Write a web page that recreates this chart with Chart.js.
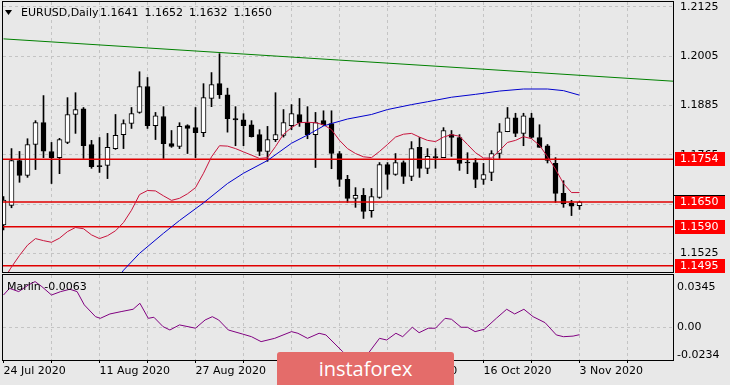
<!DOCTYPE html>
<html>
<head>
<meta charset="utf-8">
<script src="https://cdn.jsdelivr.net/npm/chart.js@4.4.1/dist/chart.umd.min.js"></script>
<style>
  html, body { margin: 0; padding: 0; background: #e8e8e8; }
  #wrap { position: relative; width: 730px; height: 385px; overflow: hidden; }
  #main { position: absolute; left: 0; top: 0; }
  #sub { position: absolute; left: 0; top: 274px; }
  #logo {
    position: absolute; left: 277px; top: 352px; width: 177px; height: 40px;
    background: #e46c6a; border-radius: 3px; color: #fff;
    font: 20px 'Open Sans', sans-serif; text-align: center; line-height: 34px;
  }
</style>
</head>
<body>
<div id="wrap">
  <canvas id="main" width="730" height="274"></canvas>
  <canvas id="sub" width="730" height="111"></canvas>
  <div id="logo">instaforex</div>
</div>
<script>
// EURUSD daily, 24 Jul 2020 .. 3 Nov 2020 (bar index 0..72)
const opens = [1.1594, 1.1642, 1.1751, 1.1715, 1.1790, 1.1843, 1.1773, 1.1758, 1.1795, 1.1863,
  1.1877, 1.1790, 1.1738, 1.1739, 1.1780, 1.1814, 1.1841, 1.1868, 1.1931, 1.1836,
  1.1858, 1.1792, 1.1785, 1.1836, 1.1831, 1.1819, 1.1902, 1.1938, 1.1911, 1.1853,
  1.1850, 1.1838, 1.1814, 1.1773, 1.1802, 1.1812, 1.1836, 1.1863, 1.1843, 1.1814,
  1.1848, 1.1841, 1.1768, 1.1705, 1.1659, 1.1666, 1.1629, 1.1661, 1.1741, 1.1717,
  1.1746, 1.1712, 1.1783, 1.1732, 1.1760, 1.1758, 1.1814, 1.1807, 1.1746, 1.1746,
  1.1705, 1.1722, 1.1768, 1.1821, 1.1855, 1.1817, 1.1855, 1.1807, 1.1787, 1.1744,
  1.1671, 1.1647, 1.1641];
const highs = [1.1663, 1.1780, 1.1773, 1.1804, 1.1848, 1.1909, 1.1795, 1.1805, 1.1904, 1.1916,
  1.1880, 1.1800, 1.1807, 1.1817, 1.1863, 1.1850, 1.1880, 1.1967, 1.1953, 1.1868,
  1.1882, 1.1824, 1.1843, 1.1838, 1.1880, 1.1938, 1.1965, 1.2011, 1.1927, 1.1882,
  1.1865, 1.1848, 1.1826, 1.1834, 1.1916, 1.1875, 1.1887, 1.1902, 1.1882, 1.1868,
  1.1872, 1.1872, 1.1773, 1.1715, 1.1685, 1.1683, 1.1683, 1.1746, 1.1746, 1.1768,
  1.1750, 1.1797, 1.1807, 1.1780, 1.1780, 1.1831, 1.1824, 1.1814, 1.1770, 1.1756,
  1.1744, 1.1775, 1.1841, 1.1880, 1.1866, 1.1866, 1.1866, 1.1838, 1.1790, 1.1758,
  1.1702, 1.1654, 1.1652];
const lows = [1.1582, 1.1636, 1.1698, 1.1710, 1.1729, 1.1758, 1.1695, 1.1719, 1.1792, 1.1817,
  1.1756, 1.1732, 1.1722, 1.1707, 1.1778, 1.1780, 1.1829, 1.1866, 1.1829, 1.1802,
  1.1756, 1.1783, 1.1780, 1.1768, 1.1758, 1.1809, 1.1882, 1.1902, 1.1820, 1.1787,
  1.1787, 1.1808, 1.1763, 1.1749, 1.1797, 1.1808, 1.1826, 1.1834, 1.1804, 1.1734,
  1.1836, 1.1731, 1.1688, 1.1649, 1.1637, 1.1610, 1.1613, 1.1659, 1.1681, 1.1715,
  1.1695, 1.1702, 1.1710, 1.1719, 1.1732, 1.1759, 1.1761, 1.1727, 1.1719, 1.1685,
  1.1693, 1.1702, 1.1756, 1.1821, 1.1809, 1.1787, 1.1805, 1.1783, 1.1745, 1.1649,
  1.1637, 1.1617, 1.1632];
const closes = [1.1655, 1.1751, 1.1715, 1.1790, 1.1843, 1.1774, 1.1758, 1.1802, 1.1863, 1.1875,
  1.1787, 1.1736, 1.1736, 1.1783, 1.1812, 1.1841, 1.1865, 1.1931, 1.1836, 1.1860,
  1.1792, 1.1785, 1.1834, 1.1829, 1.1819, 1.1904, 1.1936, 1.1911, 1.1853, 1.1850,
  1.1836, 1.1809, 1.1773, 1.1802, 1.1814, 1.1843, 1.1865, 1.1843, 1.1814, 1.1843,
  1.1838, 1.1768, 1.1705, 1.1659, 1.1666, 1.1627, 1.1663, 1.1741, 1.1717, 1.1746,
  1.1712, 1.1780, 1.1732, 1.1761, 1.1758, 1.1824, 1.1807, 1.1744, 1.1745, 1.1705,
  1.1717, 1.1768, 1.1821, 1.1855, 1.1817, 1.1860, 1.1807, 1.1783, 1.1751, 1.1671,
  1.1646, 1.1640, 1.1650];

const dateLabels = ['24 Jul 2020', '11 Aug 2020', '27 Aug 2020', '14 Sep 2020', '30 Sep 2020', '16 Oct 2020', '3 Nov 2020'];
const priceTicks = [1.2125, 1.2005, 1.1885, 1.1765, 1.1645, 1.1525];
const levels = [1.1754, 1.1650, 1.1590, 1.1495];

// thin red moving average
const fastX = [0, 0.9, 2, 3, 4, 5, 6, 7, 8, 9, 10, 11, 12, 13, 14, 15, 16, 17, 18, 19, 20, 21, 22, 23, 24,
  25, 26, 27, 28, 29, 30, 31, 32, 33, 34, 35, 36, 37, 38, 39, 40, 41, 42, 43, 44, 45, 46, 47, 48, 49,
  50, 51, 52, 53, 54, 55, 56, 57, 58, 59, 60, 61, 62, 63, 64, 65, 66, 67, 68, 69, 70, 71, 72];
const fastY = [1.1460, 1.1489, 1.1520, 1.1545, 1.1561, 1.1556, 1.1552, 1.1562, 1.1578, 1.1588, 1.1585,
  1.1570, 1.1561, 1.1568, 1.1580, 1.1600, 1.1630, 1.1668, 1.1678, 1.1677, 1.1665, 1.1654, 1.1659, 1.1670,
  1.1685, 1.1720, 1.1760, 1.1787, 1.1786, 1.1780, 1.1772, 1.1764, 1.1756, 1.1758, 1.1785, 1.1815, 1.1831,
  1.1843, 1.1844, 1.1843, 1.1838, 1.1826, 1.1800, 1.1780, 1.1768, 1.1760, 1.1758, 1.1773, 1.1790, 1.1808,
  1.1815, 1.1817, 1.1808, 1.1800, 1.1797, 1.1808, 1.1814, 1.1810, 1.1790, 1.1770, 1.1757, 1.1757, 1.1775,
  1.1795, 1.1800, 1.1809, 1.1804, 1.1788, 1.1760, 1.1730, 1.1695, 1.1673, 1.1673];

// blue slow moving average
const slowX = [14.5, 15, 17, 20, 22, 25, 28, 30, 33, 36, 38, 40, 41, 43, 46, 48, 51, 53, 56, 59, 62, 65, 68, 70, 72];
const slowY = [1.1470, 1.1484, 1.1525, 1.1574, 1.1605, 1.1648, 1.1695, 1.1720, 1.1751, 1.1793, 1.1813,
  1.1835, 1.1841, 1.1852, 1.1863, 1.1875, 1.1887, 1.1894, 1.1905, 1.1912, 1.1920, 1.1925, 1.1925, 1.1921, 1.1910];

// green trend line
const trendX = [0, 83.7];
const trendY = [1.2047, 1.1944];

// Marlin oscillator
const marlinX = [0, 0.75, 1.9, 3.1, 3.95, 4.8, 6.0, 7.15, 8.3, 9.2, 10.1, 11.5, 12.1, 13.3, 14.7, 16.2,
  17.05, 18.1, 18.8, 19.95, 20.8, 22.0, 24.0, 25.2, 26.1, 26.9, 28.1, 29.85, 31.0, 32.2, 33.9, 36.0, 36.8,
  38.0, 39.45, 40.3, 42.4, 43.2, 44.3, 45.6, 47.0, 47.9, 49.05, 49.9, 51.1, 51.95, 53.1, 54.0, 55.2, 56.0,
  57.2, 58.0, 58.95, 60.1, 61.6, 62.9, 63.9, 65.05, 66.2, 67.7, 69.1, 70.0, 71.2, 72.0];
const marlinY = [0.0274, 0.0331, 0.0303, 0.0359, 0.0388, 0.0345, 0.0274, 0.0303, 0.0323, 0.0303, 0.0190,
  0.0090, 0.0076, 0.0113, 0.0133, 0.0153, 0.0204, 0.0076, 0.0085, 0.0005, -0.0023, 0.0020, -0.0008, 0.0062,
  0.0090, 0.0062, -0.0023, -0.0057, -0.0080, -0.0122, -0.0094, -0.0037, -0.0051, -0.0094, -0.0051, -0.0065,
  -0.0207, -0.0260, -0.0290, -0.0221, -0.0094, -0.0108, -0.0051, -0.0080, 0.0000, -0.0046, -0.0008, -0.0008,
  0.0076, 0.0068, 0.0000, 0.0000, -0.0037, -0.0017, 0.0076, 0.0153, 0.0113, 0.0153, 0.0090, 0.0039, -0.0065,
  -0.0080, -0.0075, -0.0063];
const marlinTicks = [0.0345, 0, -0.0234];

const xMin = -0.0625, xMax = 83.6875;
const fontFamily = 'DejaVu Sans';
Chart.defaults.font.family = fontFamily;
Chart.defaults.font.size = 11;
Chart.defaults.color = '#000';

const pts = (xs, ys) => xs.map((x, i) => ({ x: x, y: ys[i] }));
const isUp = opens.map((o, i) => closes[i] >= o);

// keep axis labels from pushing the plot area around
const fixSize = (w, h) => s => {
  if (w !== null) s.width = w;
  if (h !== null) s.height = h;
  s.paddingTop = 0; s.paddingBottom = 0; s.paddingLeft = 0; s.paddingRight = 0;
};

const frame = {
  id: 'frame',
  afterDraw(chart) {
    const a = chart.chartArea, ctx = chart.ctx;
    ctx.save();
    ctx.strokeStyle = '#000';
    ctx.lineWidth = 1;
    ctx.strokeRect(Math.floor(a.left) - 0.5, Math.floor(a.top) - 0.5, Math.round(a.right - a.left) + 1, Math.round(a.bottom - a.top) + 1);
    ctx.restore();
  }
};

const mainLabels = {
  id: 'mainLabels',
  afterDraw(chart) {
    const ctx = chart.ctx, y = chart.scales.y, a = chart.chartArea;
    ctx.save();
    ctx.font = '11px ' + fontFamily;
    ctx.textBaseline = 'middle';
    levels.forEach(lv => {
      const py = Math.round(y.getPixelForValue(lv));
      ctx.fillStyle = '#f00';
      ctx.fillRect(a.right + 2, py - 7, 50, 14);
      ctx.fillStyle = '#fff';
      ctx.fillText(lv.toFixed(4), a.right + 7, py + 0.5);
    });
    // bid line mark over the last price label
    const bid = Math.round(y.getPixelForValue(closes[closes.length - 1])) - 7;
    ctx.fillStyle = '#000';
    ctx.fillRect(a.right, bid, 52, 1);

    // header
    const n = closes.length - 1;
    ctx.beginPath();
    ctx.moveTo(5, 10); ctx.lineTo(12, 10); ctx.lineTo(8.5, 15); ctx.closePath();
    ctx.fill();
    ctx.fillText('EURUSD,Daily', 21, 13);
    [opens[n], highs[n], lows[n], closes[n]].forEach((v, i) => {
      ctx.fillText(v.toFixed(4), 100 + i * 44.5, 13);
    });
    ctx.restore();
  }
};

new Chart(document.getElementById('main'), {
  type: 'bar',
  data: {
    datasets: [
      {
        type: 'line', data: pts(trendX, trendY), borderColor: '#008000', borderWidth: 1,
        pointRadius: 0, order: 0, clip: 0
      },
      {
        type: 'line', data: pts(slowX, slowY), borderColor: '#0000cd', borderWidth: 1,
        pointRadius: 0, order: 0, clip: 0
      },
      {
        type: 'line', data: pts(fastX, fastY), borderColor: '#c8143c', borderWidth: 1,
        pointRadius: 0, order: 0, clip: 0
      },
      ...levels.map(lv => ({
        type: 'line', data: [{ x: xMin, y: lv }, { x: xMax, y: lv }], borderColor: '#e00000',
        borderWidth: 1.5, pointRadius: 0, order: 0, clip: 0
      })),
      {
        data: opens.map((o, i) => ({ x: i, y: [o, closes[i]] })),
        backgroundColor: isUp.map(u => u ? '#ffffff' : '#000000'),
        borderColor: '#000', borderWidth: 1, borderSkipped: false,
        barThickness: 5, minBarLength: 1, grouped: false, order: 1
      },
      {
        data: lows.map((l, i) => ({ x: i, y: [l, highs[i]] })),
        backgroundColor: '#000', borderWidth: 0,
        barThickness: 1, grouped: false, order: 2
      }
    ]
  },
  options: {
    responsive: false,
    animation: false,
    events: [],
    layout: { padding: { left: 3, top: 2, right: 0, bottom: 2 } },
    plugins: { legend: { display: false }, tooltip: { enabled: false } },
    scales: {
      x: {
        type: 'linear', min: xMin, max: xMax, offset: false,
        afterBuildTicks: s => { s.ticks = [6, 12, 18, 24, 30, 36, 42, 48, 54, 60, 66, 72, 78].map(v => ({ value: v })); },
        afterFit: fixSize(null, 0),
        ticks: { display: false },
        grid: { color: '#c4c4c4', drawTicks: false, offset: false },
        border: { display: false, dash: [3, 3] }
      },
      y: {
        position: 'right', min: 1.14797, max: 1.21367,
        afterBuildTicks: s => { s.ticks = priceTicks.map(v => ({ value: v })); },
        afterFit: fixSize(57, null),
        ticks: { callback: v => v.toFixed(4), padding: 7 },
        grid: { color: '#c4c4c4', drawTicks: false },
        border: { display: false, dash: [3, 3] }
      }
    }
  },
  plugins: [frame, mainLabels]
});

const subLabels = {
  id: 'subLabels',
  afterDraw(chart) {
    const ctx = chart.ctx;
    ctx.save();
    ctx.font = '11px ' + fontFamily;
    ctx.textBaseline = 'middle';
    ctx.fillStyle = '#000';
    ctx.fillText('Marlin -' + Math.abs(marlinY[marlinY.length - 1]).toFixed(4), 7, 13);
    ctx.restore();
  }
};

new Chart(document.getElementById('sub'), {
  type: 'line',
  data: {
    datasets: [{
      data: pts(marlinX, marlinY), borderColor: '#800080', borderWidth: 1, pointRadius: 0, clip: 0
    }]
  },
  options: {
    responsive: false,
    animation: false,
    events: [],
    layout: { padding: { left: 3, top: 1, right: 0, bottom: 0 } },
    plugins: { legend: { display: false }, tooltip: { enabled: false } },
    scales: {
      x: {
        type: 'linear', min: xMin, max: xMax, offset: false,
        afterBuildTicks: s => { s.ticks = [0, 6, 12, 18, 24, 30, 36, 42, 48, 54, 60, 66, 72, 78].map(v => ({ value: v })); },
        afterFit: fixSize(null, 25),
        ticks: {
          autoSkip: false, maxRotation: 0, align: 'start', padding: 2,
          callback: v => (v % 12 === 0 && dateLabels[v / 12]) ? dateLabels[v / 12] : ''
        },
        grid: {
          color: c => c.tick && c.tick.value === 0 ? 'transparent' : '#c4c4c4',
          tickColor: '#000', tickLength: 3, tickBorderDash: [], offset: false
        },
        border: { display: false, dash: [3, 3] }
      },
      y: {
        position: 'right', min: -0.0278, max: 0.0444,
        afterBuildTicks: s => { s.ticks = marlinTicks.map(v => ({ value: v })); },
        afterFit: fixSize(57, null),
        ticks: { callback: v => v === 0 ? '0.00' : v.toFixed(4), padding: 4 },
        grid: { color: c => c.tick && c.tick.value === 0 ? '#c4c4c4' : 'transparent', drawTicks: false },
        border: { display: false, dash: [3, 3] }
      }
    }
  },
  plugins: [frame, subLabels]
});
</script>
</body>
</html>
